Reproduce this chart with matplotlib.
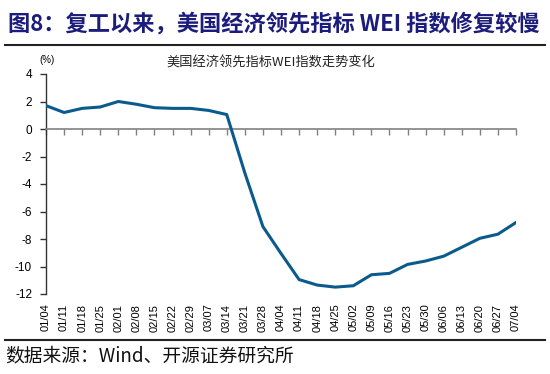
import matplotlib
matplotlib.use("Agg")
import matplotlib.pyplot as plt
import numpy as np

dates = ["01/04","01/11","01/18","01/25","02/01","02/08","02/15","02/22","02/29",
         "03/07","03/14","03/21","03/28","04/04","04/11","04/18","04/25","05/02",
         "05/09","05/16","05/23","05/30","06/06","06/13","06/20","06/27","07/04"]
wei = [1.7, 1.2, 1.5, 1.6, 2.0, 1.8, 1.55, 1.5, 1.5,
       1.35, 1.05, -3.2, -7.1, -9.05, -10.95, -11.35, -11.5, -11.4,
       -10.6, -10.5, -9.85, -9.6, -9.25, -8.6, -7.95, -7.65, -6.8]
yticks = [4, 2, 0, -2, -4, -6, -8, -10, -12]

plt.rcParams['font.family'] = ['Noto Sans CJK SC', 'DejaVu Sans']

fig = plt.figure(figsize=(5.5, 3.74), dpi=100)
ax = fig.add_axes([46/550, 1-294/374, 470/550, 220/374])

x = np.arange(len(dates))
ax.plot(x, wei, color='#0b5a8e', lw=2.2, solid_joinstyle='round', zorder=3)

ax.set_xlim(0, len(dates)-1)
ax.set_ylim(-12, 4)
ax.set_yticks(yticks)
ax.set_yticklabels([str(v) for v in yticks], family='Liberation Sans', fontsize=8.5)

for s in ['top', 'right']:
    ax.spines[s].set_visible(False)
ax.spines['left'].set_color('#333333')
ax.spines['left'].set_linewidth(1.0)
ax.spines['bottom'].set_position(('data', 0))
ax.spines['bottom'].set_color('#808080')
ax.spines['bottom'].set_linewidth(1.2)
ax.tick_params(axis='y', direction='out', length=4, width=1, color='#333333', pad=6)
ax.set_xticks(x)
ax.tick_params(axis='x', direction='out', length=4, width=1, color='#808080', labelbottom=False)

sec = ax.secondary_xaxis('bottom')
sec.set_xticks(x)
sec.set_xticklabels(dates, rotation=90, family='Liberation Sans', fontsize=8)
sec.tick_params(length=0, pad=7)
sec.spines['bottom'].set_visible(False)

fig.text(8/550, 1-24/374, "图8：复工以来，美国经济领先指标 WEI 指数修复较慢",
         fontsize=16, fontweight='bold', color='#1c1c7c', va='center', ha='left')
fig.add_artist(plt.Line2D([5/550, 545/550], [1-45/374, 1-45/374], color='#222222', lw=1.5))
fig.text(271/550, 1-63/374, "美国经济领先指标WEI指数走势变化", fontsize=9.5,
         color='#222222', ha='center', va='center')
fig.text(47/550, 1-60/374, "(%)", fontsize=7, family='Liberation Sans', ha='center', va='center')
fig.add_artist(plt.Line2D([5/550, 545/550], [1-340/374, 1-340/374], color='#222222', lw=1.5))
fig.text(5/550, 1-356/374, "数据来源：Wind、开源证券研究所", fontsize=13.5,
         color='#111111', ha='left', va='center')

fig.savefig("out.png", dpi=100)
